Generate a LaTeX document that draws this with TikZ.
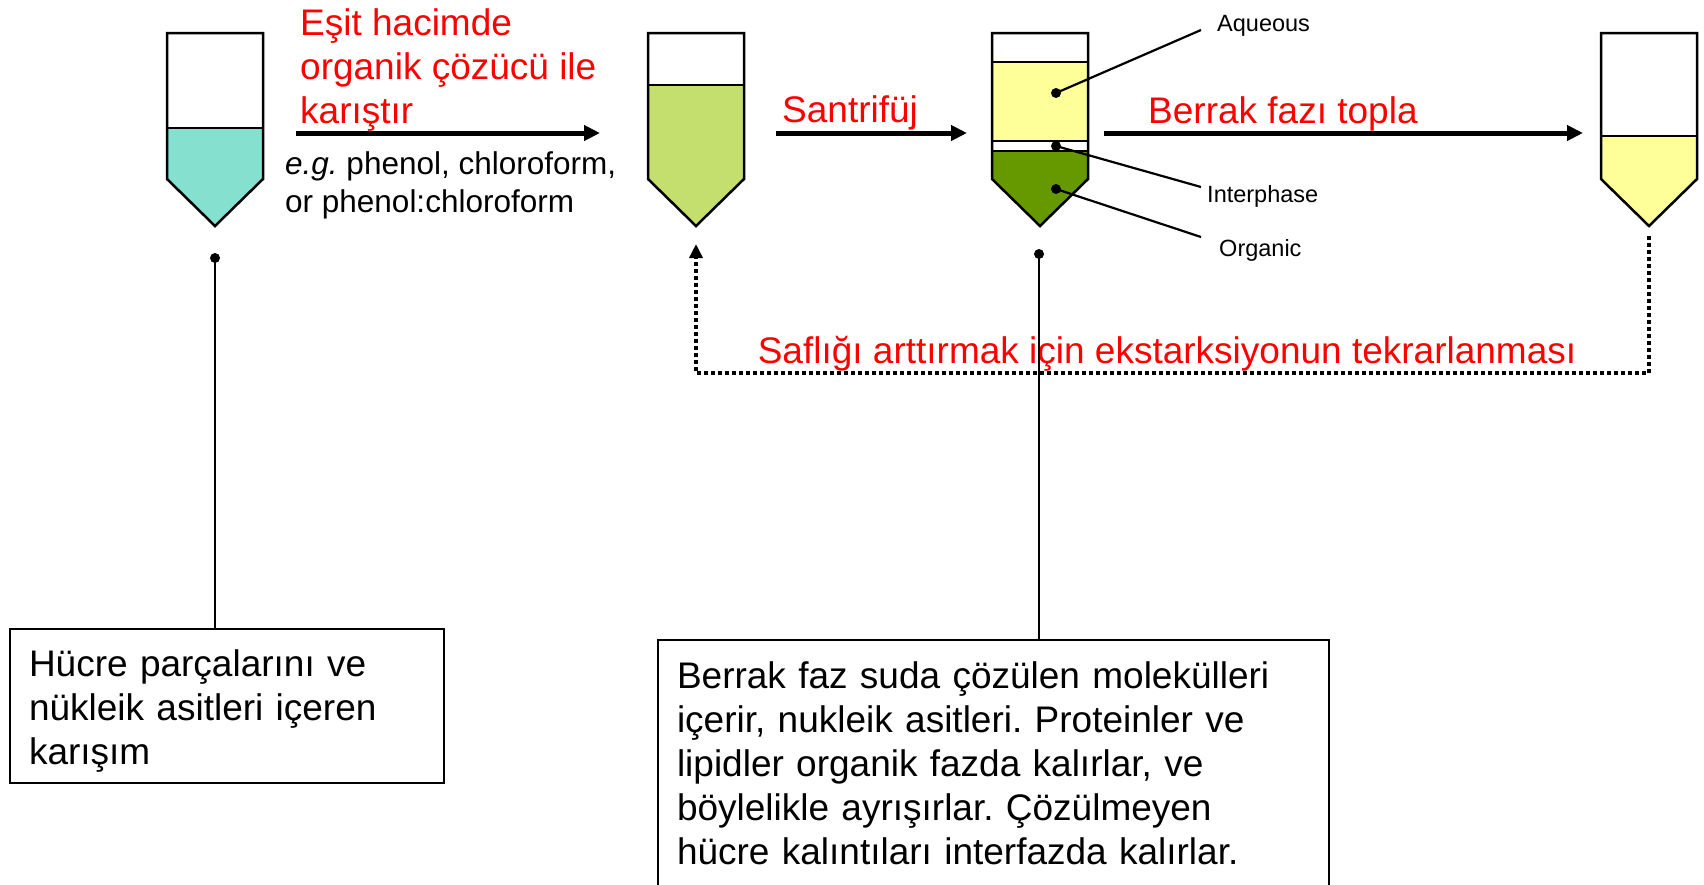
\documentclass[tikz,border=0pt]{standalone}
\usepackage{fontspec}
\setmainfont{Liberation Sans}
\frenchspacing
\usetikzlibrary{arrows.meta,calc}
\definecolor{turq}{HTML}{85E0D0}
\definecolor{lgreen}{HTML}{C4DF6E}
\definecolor{pyellow}{HTML}{FFFF99}
\definecolor{dgreen}{HTML}{669900}
\definecolor{redtxt}{HTML}{FF0000}
\tikzset{
  tubeline/.style={line width=2.5pt, line join=miter},
  mainarrow/.style={line width=5pt, -{Triangle[length=16pt,width=15pt]}},
  conn/.style={line width=2.5pt},
  lblline/.style={line width=2.2pt},
  lbl/.style={font=\fontsize{23.5}{28}\selectfont, inner sep=0pt},
  redlbl/.style={text=redtxt, font=\fontsize{37}{44}\selectfont, inner sep=0pt},
  infobox/.style={draw, line width=2pt, font=\fontsize{37}{44}\selectfont, align=left, inner xsep=19pt, inner ysep=0pt, anchor=north west},
  feedback/.style={line width=4pt, dash pattern=on 4pt off 3pt, -{Triangle[length=14pt,width=13pt]}},
  dotmark/.style={fill=black}
}
\newcommand{\drawtube}[3]{%
  \fill[#3] (#1,#2) -- (#1+96,#2) -- (#1+96,179) -- (#1+48,226) -- (#1,179) -- cycle;
  \draw[tubeline] (#1,#2) -- (#1+96,#2);
  \draw[tubeline] (#1,33) -- (#1+96,33) -- (#1+96,179) -- (#1+48,226) -- (#1,179) -- cycle;
}
\begin{document}
\begin{tikzpicture}[x=1pt,y=-1pt]
\useasboundingbox (0,0) rectangle (1704,884);
\fill[white] (0,0) rectangle (1704,884);

% tubes
\drawtube{167}{128}{turq}
\drawtube{648}{85}{lgreen}
\drawtube{1601}{136}{pyellow}
% tube 3 (separated phases)
\fill[pyellow] (992,62) rectangle (1088,141);
\fill[dgreen] (992,151) -- (1088,151) -- (1088,179) -- (1040,226) -- (992,179) -- cycle;
\draw[tubeline] (992,62) -- (1088,62);
\draw[tubeline] (992,141) -- (1088,141);
\draw[tubeline] (992,151) -- (1088,151);
\draw[tubeline] (992,33) -- (1088,33) -- (1088,179) -- (1040,226) -- (992,179) -- cycle;

% main arrows
\coordinate (a1s) at (296,133); \coordinate (a1e) at (600,133);
\coordinate (a2s) at (776,133); \coordinate (a2e) at (967,133);
\coordinate (a3s) at (1104,133); \coordinate (a3e) at (1583,133);
\draw[mainarrow] (a1s) -- (a1e);
\draw[mainarrow] (a2s) -- (a2e);
\draw[mainarrow] (a3s) -- (a3e);

% step texts
\node[redlbl, anchor=west, align=left] (t1) at (300,70) {Eşit hacimde\\organik çözücü ile\\karıştır};
\node[anchor=west, align=left, inner sep=0pt, font=\fontsize{31.5}{38}\selectfont] (eg) at (285,185) {\textit{e.g.} phenol, chloroform,\\or phenol:chloroform};
\node[redlbl, anchor=base west] (t2) at (782,122) {Santrifüj};
\node[redlbl, anchor=base west] (t3) at (1148,123) {Berrak fazı topla};

% phase labels
\coordinate (aqdot) at (1056,93);
\coordinate (indot) at (1056,146);
\coordinate (ordot) at (1056,189);
\fill[dotmark] (aqdot) circle (5pt);
\fill[dotmark] (indot) circle (5pt);
\fill[dotmark] (ordot) circle (5pt);
\node[lbl, anchor=west] (aq) at (1217,26) {Aqueous};
\node[lbl, anchor=west] (in) at (1207,196) {Interphase};
\node[lbl, anchor=west] (or) at (1219,250) {Organic};
\coordinate (aqend) at (1201,30);
\coordinate (inend) at (1201,187);
\coordinate (orend) at (1201,237);
\draw[lblline] (aqdot) -- (aqend);
\draw[lblline] (indot) -- (inend);
\draw[lblline] (ordot) -- (orend);

% feedback loop
\coordinate (fbs) at (1649,236);
\coordinate (fbl) at (696,373);
\coordinate (fbe) at (696,244);
\node[redlbl, anchor=base] (t4) at (1167,363) {Saflığı arttırmak için ekstarksiyonun tekrarlanması};
\draw[feedback] (fbs) |- (fbl) -- (fbe);

% boxes
\node[infobox, text width=396pt, minimum height=154pt] (b1) at (9,628)
  {\rule{0pt}{36pt}Hücre parçalarını ve\\nükleik asitleri içeren\\karışım};
\node[infobox, text width=633pt, minimum height=247pt] (b2) at (657,639)
  {Berrak faz suda çözülen molekülleri\\içerir, nukleik asitleri. Proteinler ve\\lipidler organik fazda kalırlar, ve\\böylelikle ayrışırlar. Çözülmeyen\\hücre kalıntıları interfazda kalırlar.};

% connectors to boxes
\coordinate (d1) at (215,258);
\coordinate (d3) at (1039,254);
\fill[dotmark] (d1) circle (5pt);
\fill[dotmark] (d3) circle (5pt);
\draw[conn] (d1) -- (d1 |- b1.north);
\draw[conn] (d3) -- (d3 |- b2.north);
\end{tikzpicture}
\end{document}
